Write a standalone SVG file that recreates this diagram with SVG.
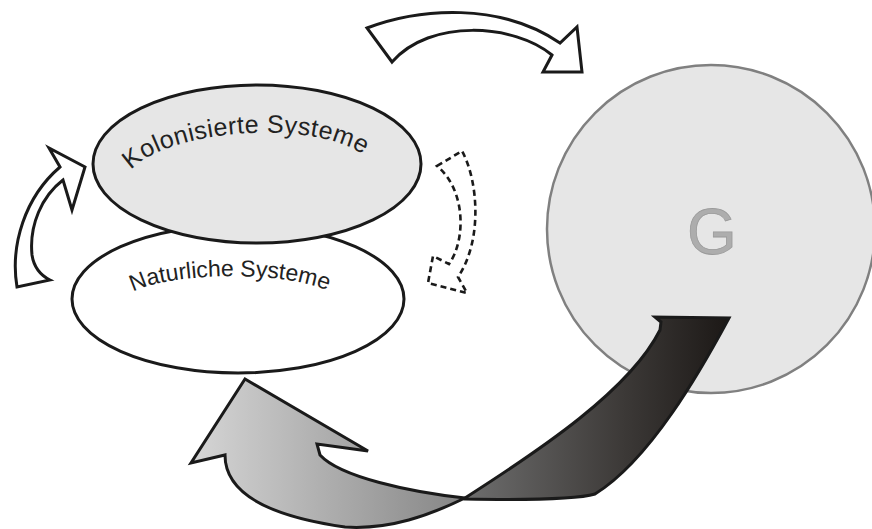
<svg xmlns="http://www.w3.org/2000/svg" width="872" height="529" viewBox="0 0 872 529">
  <defs>
    <linearGradient id="gLight" gradientUnits="userSpaceOnUse" x1="190" y1="0" x2="466" y2="0">
      <stop offset="0" stop-color="#d6d6d6"/>
      <stop offset="1" stop-color="#858585"/>
    </linearGradient>
    <linearGradient id="gDark" gradientUnits="userSpaceOnUse" x1="465" y1="0" x2="730" y2="0">
      <stop offset="0" stop-color="#6e6e6e"/>
      <stop offset="0.6" stop-color="#3c3937"/>
      <stop offset="1" stop-color="#1c1816"/>
    </linearGradient>
    <path id="arcK" d="M 131 170 C 170 128, 320 118, 368 158"/>
    <path id="arcN" d="M 133 292 C 165 274, 280 268, 331 292"/>
  </defs>
  <style>
    .ell { stroke: #1a1a1a; stroke-width: 3; }
    .lbl { font-family: "Liberation Sans", Arial, sans-serif; fill: #222222; }
    .wa { fill: #ffffff; stroke: #1a1a1a; stroke-width: 3; stroke-linejoin: miter; }
    .ba { stroke: #1a1a1a; stroke-width: 3; stroke-linejoin: miter; }
    .da { fill: #ffffff; stroke: #1a1a1a; stroke-width: 2.6; stroke-dasharray: 6 4; }
  </style>

  <g id="node-G">
    <circle cx="711" cy="229" r="164" fill="#e6e6e6" stroke="#808080" stroke-width="2.5"/>
    <text x="712" y="254" text-anchor="middle" font-family="Liberation Sans, Arial, sans-serif" font-size="64" fill="#adadad" stroke="#9a9a9a" stroke-width="0.8">G</text>
  </g>

  <g id="node-natuerlich">
    <ellipse class="ell" cx="238" cy="299" rx="166" ry="74" fill="#ffffff"/>
    <text class="lbl" font-size="23"><textPath href="#arcN" textLength="198" lengthAdjust="spacing">Naturliche Systeme</textPath></text>
  </g>

  <g id="node-kolonisiert">
    <ellipse class="ell" cx="257" cy="164" rx="164" ry="79" fill="#e6e6e6"/>
    <text class="lbl" font-size="25"><textPath href="#arcK" textLength="244" lengthAdjust="spacing">Kolonisierte Systeme</textPath></text>
  </g>

  <g id="connectors">
    <path class="wa" d="M 17 287 C 10 245, 25 197, 60 167 L 49 148 L 85 167 L 72 210 L 63 180 C 42 196, 29 225, 32 255 C 34 268, 42 276, 50 280 Z"/>
    <path class="wa" d="M 367 28 C 420 8, 500 2, 560 43 L 577 27 L 582 72 L 543 72 L 552 55 C 515 24, 430 18, 392 62 Z"/>
    <path class="da" d="M 437 166 L 462 151 C 478 180, 483 240, 458 277 L 467 293 L 428 283 L 433 256 L 449 264 C 466 240, 466 190, 437 166 Z"/>
    <path class="ba" fill="url(#gLight)" d="M 465 498 C 410 492, 340 477, 320 455 L 317 444 L 368 451 L 245 379 L 191 463 L 225 455 C 225 490, 260 515, 345 527 C 390 530, 430 515, 465 498 Z"/>
    <path class="ba" fill="url(#gDark)" d="M 465 498 C 540 450, 630 390, 660 330 L 661 322 L 655 317 L 729 318 C 700 372, 650 460, 595 494 C 575 500, 520 500, 465 499 Z"/>
  </g>
</svg>
